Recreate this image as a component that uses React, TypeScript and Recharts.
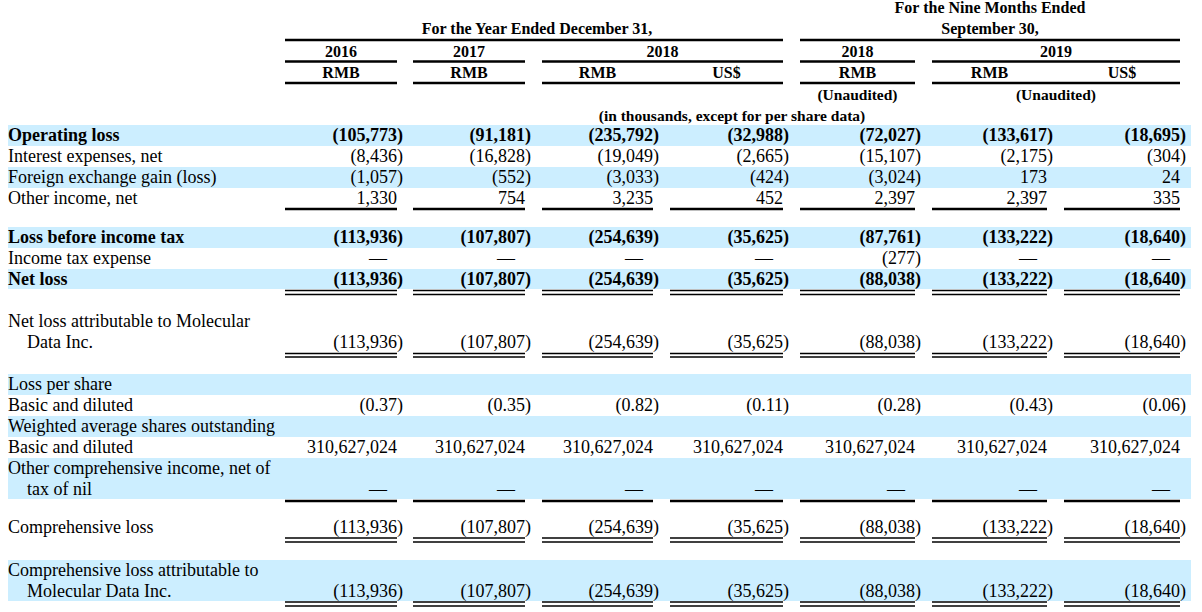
import React from 'react';
import { ComposedChart, XAxis, YAxis, Scatter, ReferenceArea, ReferenceLine } from 'recharts';

// ---------- DATA ----------
const groupHeaders = ['For the Year Ended December 31,', 'For the Nine Months Ended', 'September 30,'];
const yearHeaders = ['2016', '2017', '2018', '2018', '2019'];
const currencyHeaders = ['RMB', 'RMB', 'RMB', 'US$', 'RMB', 'RMB', 'US$'];
const auditHeaders = ['(Unaudited)', '(Unaudited)'];
const unitNote = '(in thousands, except for per share data)';

const rowLabels: string[][] = [
  ['Operating loss'],
  ['Interest expenses, net'],
  ['Foreign exchange gain (loss)'],
  ['Other income, net'],
  ['Loss before income tax'],
  ['Income tax expense'],
  ['Net loss'],
  ['Net loss attributable to Molecular', 'Data Inc.'],
  ['Loss per share'],
  ['Basic and diluted'],
  ['Weighted average shares outstanding'],
  ['Basic and diluted'],
  ['Other comprehensive income, net of', 'tax of nil'],
  ['Comprehensive loss'],
  ['Comprehensive loss attributable to', 'Molecular Data Inc.'],
];

type V = number | null;
const operatingLoss: V[] = [-105773, -91181, -235792, -32988, -72027, -133617, -18695];
const interestExpenses: V[] = [-8436, -16828, -19049, -2665, -15107, -2175, -304];
const fxGainLoss: V[] = [-1057, -552, -3033, -424, -3024, 173, 24];
const otherIncome: V[] = [1330, 754, 3235, 452, 2397, 2397, 335];
const lossBeforeTax: V[] = [-113936, -107807, -254639, -35625, -87761, -133222, -18640];
const incomeTaxExpense: V[] = [null, null, null, null, -277, null, null];
const netLoss: V[] = [-113936, -107807, -254639, -35625, -88038, -133222, -18640];
const netLossAttributable: V[] = [-113936, -107807, -254639, -35625, -88038, -133222, -18640];
const lossPerShare: V[] = [-0.37, -0.35, -0.82, -0.11, -0.28, -0.43, -0.06];
const weightedShares: V[] = [310627024, 310627024, 310627024, 310627024, 310627024, 310627024, 310627024];
const otherComprehensive: V[] = [null, null, null, null, null, null, null];
const comprehensiveLoss: V[] = [-113936, -107807, -254639, -35625, -88038, -133222, -18640];
const comprehensiveLossAttributable: V[] = [-113936, -107807, -254639, -35625, -88038, -133222, -18640];

const rowValues: (V[] | null)[] = [
  operatingLoss, interestExpenses, fxGainLoss, otherIncome, lossBeforeTax, incomeTaxExpense,
  netLoss, netLossAttributable, null, lossPerShare, null, weightedShares, otherComprehensive,
  comprehensiveLoss, comprehensiveLossAttributable,
];
const rowDecimals = [0, 0, 0, 0, 0, 0, 0, 0, 0, 2, 0, 0, 0, 0, 0];

// ---------- LAYOUT ----------
const W = 1202;
const H = 612;
const FONT = "'Liberation Serif', 'Times New Roman', serif";
const COL_LEFT = [285, 413, 542, 670, 800, 932, 1064];
const COL_RIGHT = [397, 525, 653, 783, 915, 1047, 1180];
const ROW_TOP = [125, 146, 167, 188, 227, 248, 269, 311, 374, 395, 416, 437, 458, 517, 560];
const ROW_BOLD = [true, false, false, false, true, false, true, false, false, false, false, false, false, false, false];
const BANDS: [number, number][] = [
  [125, 146], [167, 188], [227, 248], [269, 289], [374, 395], [416, 437], [458, 499], [560, 601],
];
const SINGLE_RULES = [209, 501];
const DOUBLE_RULES = [[290.5, 294.5], [353.5, 357], [538, 542], [602, 606]];

type TP = { x: number; y: number; text: string; anchor: string; bold: boolean; size: number };

function fmt(v: V, d: number): string {
  if (v === null) return '\u2014';
  const s = Math.abs(v).toLocaleString('en-US', { minimumFractionDigits: d, maximumFractionDigits: d });
  return v < 0 ? `(${s})` : s;
}

const texts: TP[] = [];
// headers
texts.push({ x: 537, y: 33.5, text: groupHeaders[0], anchor: 'middle', bold: true, size: 16 });
texts.push({ x: 990, y: 13, text: groupHeaders[1], anchor: 'middle', bold: true, size: 16 });
texts.push({ x: 990, y: 33.5, text: groupHeaders[2], anchor: 'middle', bold: true, size: 16 });
const yearCenters = [341, 469, 662.5, 857.5, 1056];
yearHeaders.forEach((t, i) => texts.push({ x: yearCenters[i], y: 56.5, text: t, anchor: 'middle', bold: true, size: 16 }));
currencyHeaders.forEach((t, i) =>
  texts.push({ x: (COL_LEFT[i] + COL_RIGHT[i]) / 2, y: 78, text: t, anchor: 'middle', bold: true, size: 16 })
);
[857.5, 1056].forEach((cx, i) => texts.push({ x: cx, y: 100, text: auditHeaders[i], anchor: 'middle', bold: true, size: 15.5 }));
texts.push({ x: 732, y: 121, text: unitNote, anchor: 'middle', bold: true, size: 15.5 });

// body
rowLabels.forEach((lines, r) => {
  const top = ROW_TOP[r];
  lines.forEach((ln, k) => {
    texts.push({ x: k === 0 ? 8 : 27, y: top + 16 + k * 21, text: ln, anchor: 'start', bold: ROW_BOLD[r], size: 18 });
  });
  const vals = rowValues[r];
  if (vals) {
    const y = top + 16 + (lines.length - 1) * 21;
    vals.forEach((v, c) => {
      const x = v === null ? COL_RIGHT[c] - 10 : v < 0 ? COL_RIGHT[c] + 6 : COL_RIGHT[c];
      texts.push({ x, y, text: fmt(v, rowDecimals[r]), anchor: 'end', bold: ROW_BOLD[r], size: 18 });
    });
  }
});

const TextShape = (props: any) => {
  const p = props.payload as TP;
  return (
    <text
      x={props.cx}
      y={props.cy}
      textAnchor={p.anchor as any}
      fontFamily={FONT}
      fontSize={p.size}
      fontWeight={p.bold ? 700 : 400}
      fill="#000"
    >
      {p.text}
    </text>
  );
};

// header rules
const headerRules: { x1: number; x2: number; y: number }[] = [
  { x1: 285, x2: 783, y: 40 },
  { x1: 800, x2: 1180, y: 40 },
  { x1: 285, x2: 397, y: 61.5 },
  { x1: 413, x2: 525, y: 61.5 },
  { x1: 542, x2: 783, y: 61.5 },
  { x1: 800, x2: 915, y: 61.5 },
  { x1: 932, x2: 1180, y: 61.5 },
  { x1: 285, x2: 397, y: 83 },
  { x1: 413, x2: 525, y: 83 },
  { x1: 542, x2: 783, y: 83 },
  { x1: 800, x2: 915, y: 83 },
  { x1: 932, x2: 1180, y: 83 },
];

export default function App() {
  const lines: React.ReactNode[] = [];
  headerRules.forEach((h, i) =>
    lines.push(
      <ReferenceLine key={`h${i}`} segment={[{ x: h.x1, y: h.y }, { x: h.x2, y: h.y }]} stroke="#000" strokeWidth={2.5} ifOverflow="visible" />
    )
  );
  SINGLE_RULES.forEach((y, i) =>
    COL_LEFT.forEach((l, c) =>
      lines.push(
        <ReferenceLine key={`s${i}-${c}`} segment={[{ x: l, y }, { x: COL_RIGHT[c], y }]} stroke="#000" strokeWidth={2.5} ifOverflow="visible" />
      )
    )
  );
  DOUBLE_RULES.forEach((pair, i) =>
    pair.forEach((y, j) =>
      COL_LEFT.forEach((l, c) =>
        lines.push(
          <ReferenceLine key={`d${i}-${j}-${c}`} segment={[{ x: l, y }, { x: COL_RIGHT[c], y }]} stroke="#000" strokeWidth={1.6} ifOverflow="visible" />
        )
      )
    )
  );

  return (
    <div style={{ position: 'absolute', left: 0, top: 0, width: W, height: H, background: '#fff' }}>
      <ComposedChart width={W} height={H} data={texts} margin={{ top: 0, right: 0, bottom: 0, left: 0 }}>
        <XAxis dataKey="x" type="number" domain={[0, W]} hide allowDataOverflow />
        <YAxis dataKey="y" type="number" domain={[0, H]} reversed hide allowDataOverflow />
        {BANDS.map(([y1, y2], i) => (
          <ReferenceArea key={`b${i}`} x1={8} x2={1191} y1={y1} y2={y2} fill="#CCEEFF" fillOpacity={1} stroke="none" ifOverflow="visible" />
        ))}
        {lines}
        <Scatter data={texts} dataKey="y" shape={TextShape} isAnimationActive={false} />
      </ComposedChart>
    </div>
  );
}
